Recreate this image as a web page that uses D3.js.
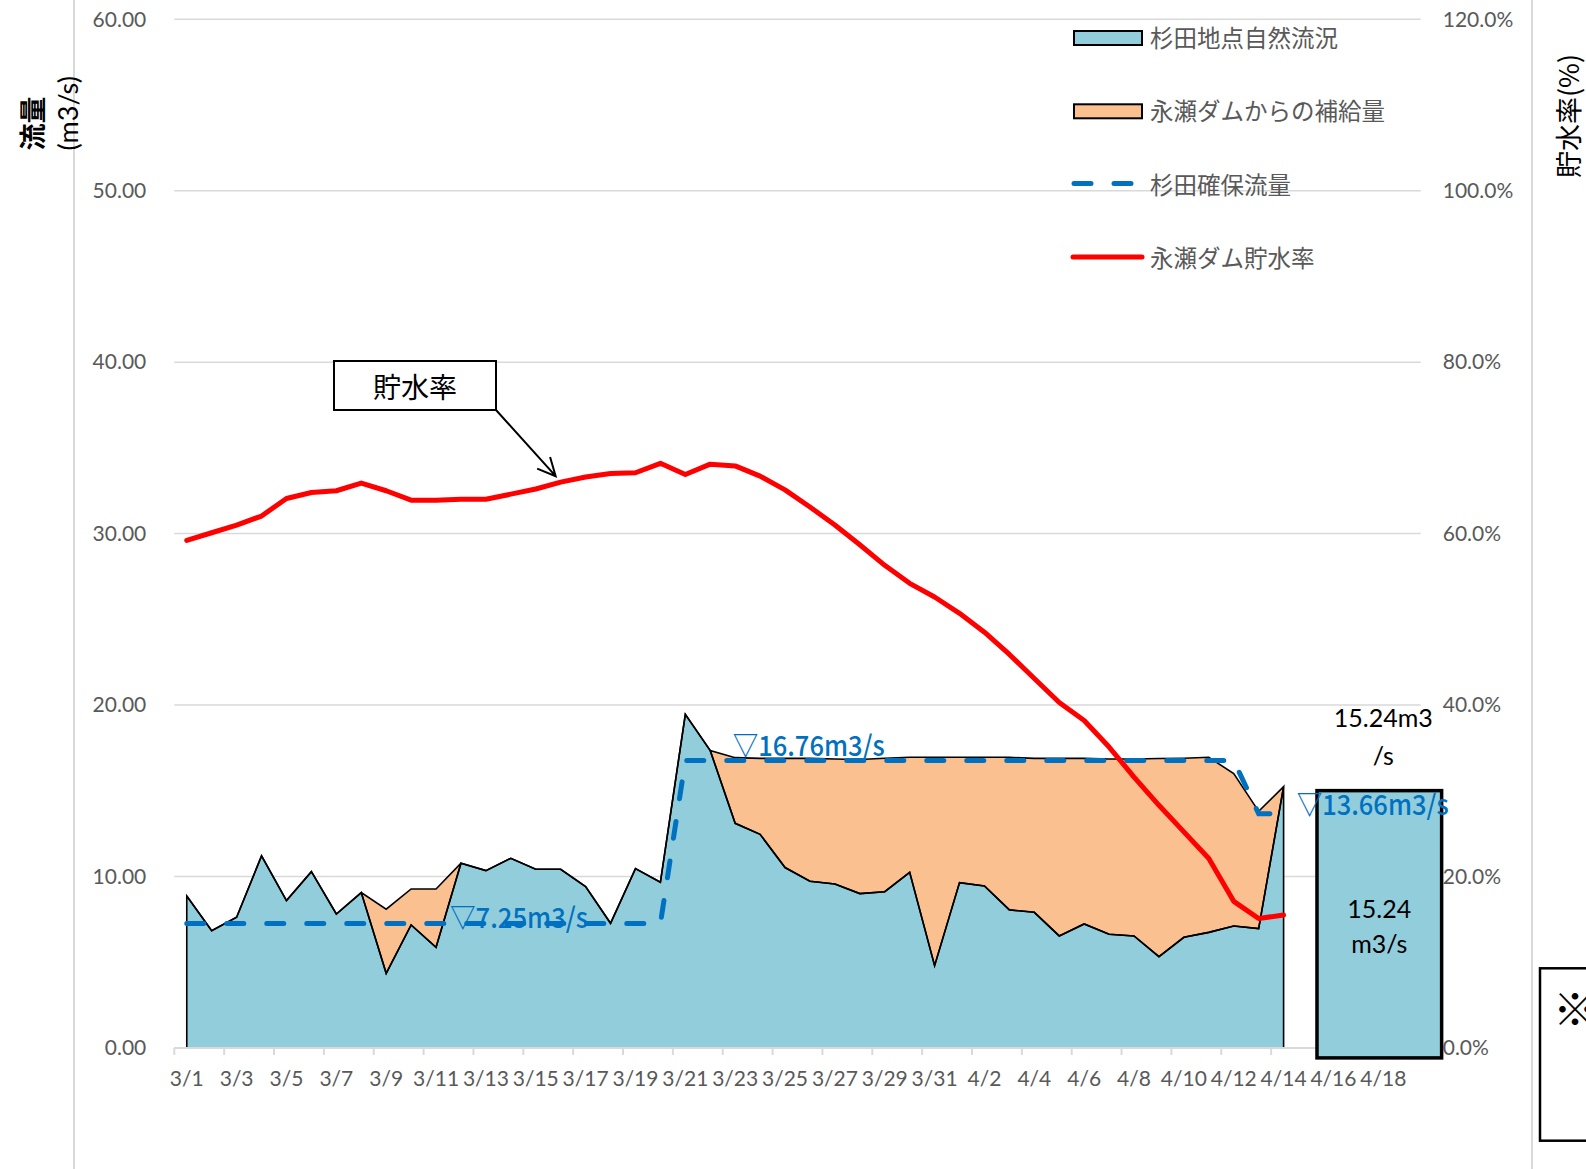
<!DOCTYPE html>
<html>
<head>
<meta charset="utf-8">
<script src="https://cdn.jsdelivr.net/npm/d3@7"></script>
<style>
  body { margin: 0; background: #fff; }
  svg { display: block; }
</style>
</head>
<body>
<svg id="chart"></svg>
<script>
var width = 1586;
var height = 1169;

// categories (3/1 .. 4/19)
const dates = ["3/1","3/2","3/3","3/4","3/5","3/6","3/7","3/8","3/9","3/10",
  "3/11","3/12","3/13","3/14","3/15","3/16","3/17","3/18","3/19","3/20",
  "3/21","3/22","3/23","3/24","3/25","3/26","3/27","3/28","3/29","3/30","3/31",
  "4/1","4/2","4/3","4/4","4/5","4/6","4/7","4/8","4/9","4/10",
  "4/11","4/12","4/13","4/14","4/15","4/16","4/17","4/18","4/19"];

// 杉田地点自然流況 (m3/s), 3/1 .. 4/14
const naturalFlow = [8.86,6.84,7.62,11.20,8.59,10.28,7.81,9.06,4.35,7.17,
  5.87,10.77,10.34,11.06,10.42,10.42,9.41,7.27,10.46,9.66,
  19.46,17.34,13.10,12.46,10.52,9.72,9.56,9.00,9.11,10.24,4.80,
  9.64,9.45,8.05,7.91,6.53,7.23,6.63,6.53,5.32,6.45,
  6.74,7.11,6.96,15.24];

// 永瀬ダムからの補給量 (m3/s)
const supply = [0,0,0,0,0,0,0,0,3.74,2.10,
  3.40,0,0,0,0,0,0,0,0,0,
  0,0,3.83,4.43,6.37,7.17,7.29,7.82,7.79,6.71,12.15,
  7.31,7.50,8.90,8.98,10.36,9.66,10.22,10.32,11.56,10.45,
  10.21,8.89,6.84,0];

// 杉田確保流量 (m3/s)
const secureFlow = [7.25,7.25,7.25,7.25,7.25,7.25,7.25,7.25,7.25,7.25,
  7.25,7.25,7.25,7.25,7.25,7.25,7.25,7.25,7.25,7.25,
  16.76,16.76,16.76,16.76,16.76,16.76,16.76,16.76,16.76,16.76,16.76,
  16.76,16.76,16.76,16.76,16.76,16.76,16.76,16.76,16.76,16.76,
  16.76,16.76,13.66,13.66];

// 永瀬ダム貯水率 (%)
const storageRate = [59.2,60.1,61.0,62.05,64.1,64.8,65.0,65.9,65.0,63.9,
  63.9,64.0,64.0,64.6,65.2,66.0,66.6,67.0,67.1,68.2,
  66.9,68.1,67.9,66.7,65.1,63.1,61.0,58.7,56.3,54.2,52.6,
  50.7,48.5,45.9,43.1,40.3,38.2,35.1,31.6,28.3,25.2,
  22.1,17.1,15.1,15.5];

const yTicks = [0, 10, 20, 30, 40, 50, 60];
const yRightTicks = [0, 20, 40, 60, 80, 100, 120];
const xTickLabels = dates.filter((d, i) => i % 2 === 0);

// label anchor (category + value); small pixel nudges kept separately
const securedLabels = [
  {text: "▽7.25m3/s", date: "3/12", value: 7.25, dx: 1.5, dy: 4.5, len: 138},
  {text: "▽16.76m3/s", date: "3/23", value: 16.76, dx: 10, dy: -4.5, len: 152},
  {text: "▽13.66m3/s", date: "4/15", value: 13.66, dx: 0.6, dy: 1.5, len: 152}
];
const forecastValue = 15.24;

const legendItems = [
  {name: "杉田地点自然流況", type: "area", color: "#92CDDC"},
  {name: "永瀬ダムからの補給量", type: "area", color: "#FAC090"},
  {name: "杉田確保流量", type: "dash", color: "#0070C0"},
  {name: "永瀬ダム貯水率", type: "line", color: "#FF0000"}
];

const latin = "Lato, 'Noto Sans', sans-serif";
const cjk = "'Noto Sans CJK JP', 'Noto Sans', sans-serif";
const grey = "#595959";

var svg = d3.select("#chart")
    .attr("width", width)
    .attr("height", height)
    .attr("viewBox", [0, 0, width, height]);

svg.append("rect").attr("width", width).attr("height", height).attr("fill", "#fff");

// outer frame lines
svg.append("g").selectAll("line")
    .data([74, 1532])
    .join("line")
    .attr("x1", d => d).attr("x2", d => d)
    .attr("y1", 0).attr("y2", height)
    .attr("stroke", "#D9D9D9").attr("stroke-width", 2);

let x = d3.scaleBand().domain(dates).range([174.3, 1420.7]);
let cx = d => x(d) + x.bandwidth() / 2;
let y = d3.scaleLinear().domain([0, 60]).range([1047.9, 19.3]);
let yR = d3.scaleLinear().domain([0, 120]).range([1047.9, 19.3]);

// gridlines
svg.append("g").selectAll("line")
    .data(yTicks)
    .join("line")
    .attr("x1", 174.3).attr("x2", 1420.7)
    .attr("y1", d => y(d)).attr("y2", d => y(d))
    .attr("stroke", "#D9D9D9").attr("stroke-width", 1.5);

// left axis labels
svg.append("g")
    .attr("transform", "translate(174.3,0)")
    .call(d3.axisLeft(y).tickValues(yTicks).tickSize(0).tickPadding(28).tickFormat(d3.format(".2f")))
    .call(g => g.select(".domain").remove())
    .selectAll("text")
    .attr("font-family", latin).attr("font-size", 21).attr("fill", grey);

// right axis labels
svg.append("g")
    .attr("transform", "translate(1420.7,0)")
    .call(d3.axisRight(yR).tickValues(yRightTicks).tickSize(0).tickPadding(22)
        .tickFormat(d => d3.format(".1f")(d) + "%"))
    .call(g => g.select(".domain").remove())
    .selectAll("text")
    .attr("font-family", latin).attr("font-size", 21).attr("fill", grey);

let rows = naturalFlow.map((v, i) => ({
    date: dates[i], nat: v, sup: supply[i], sec: secureFlow[i], rate: storageRate[i]
}));

// 自然流況 area
svg.append("path")
    .datum(rows)
    .attr("fill", "#92CDDC")
    .attr("d", d3.area().x(d => cx(d.date)).y0(y(0)).y1(d => y(d.nat)));

// 補給量 area stacked on top
svg.append("path")
    .datum(rows)
    .attr("fill", "#FAC090")
    .attr("stroke", "#000").attr("stroke-width", 1.6)
    .attr("d", d3.area().x(d => cx(d.date)).y0(d => y(d.nat)).y1(d => y(d.nat + d.sup)));

// outline of natural flow
let outline = [{date: rows[0].date, nat: 0}].concat(rows, [{date: rows[rows.length - 1].date, nat: 0}]);
svg.append("path")
    .datum(outline)
    .attr("fill", "none")
    .attr("stroke", "#000").attr("stroke-width", 1.6)
    .attr("d", d3.line().x(d => cx(d.date)).y(d => y(d.nat)));

// x axis line + ticks
svg.append("line")
    .attr("x1", 174.3).attr("x2", 1420.7)
    .attr("y1", y(0)).attr("y2", y(0))
    .attr("stroke", "#D9D9D9").attr("stroke-width", 2);
svg.append("g").selectAll("line")
    .data(xTickLabels)
    .join("line")
    .attr("x1", d => x(d)).attr("x2", d => x(d))
    .attr("y1", y(0)).attr("y2", y(0) + 7)
    .attr("stroke", "#D9D9D9").attr("stroke-width", 2);

svg.append("g")
    .attr("transform", `translate(0,${y(0)})`)
    .call(d3.axisBottom(x).tickValues(xTickLabels).tickSize(0))
    .call(g => g.select(".domain").remove())
    .selectAll("text")
    .attr("y", 31).attr("dy", "0.35em")
    .attr("font-family", latin).attr("font-size", 21).attr("fill", grey);

// 確保流量 dashed
svg.append("path")
    .datum(rows)
    .attr("fill", "none")
    .attr("stroke", "#0070C0").attr("stroke-width", 5)
    .attr("stroke-dasharray", "17,23").attr("stroke-linecap", "round")
    .attr("d", d3.line().x(d => cx(d.date)).y(d => y(d.sec)));

// 貯水率 line
svg.append("path")
    .datum(rows)
    .attr("fill", "none")
    .attr("stroke", "#FF0000").attr("stroke-width", 5)
    .attr("stroke-linejoin", "round").attr("stroke-linecap", "round")
    .attr("d", d3.line().x(d => cx(d.date)).y(d => yR(d.rate)));

// forecast box
let boxL = x("4/16") - 4, boxW = x.bandwidth() * 5;
svg.append("rect")
    .attr("x", boxL).attr("y", y(forecastValue) + 4)
    .attr("width", boxW).attr("height", y(0) + 10 - y(forecastValue) - 4)
    .attr("fill", "#92CDDC").attr("stroke", "#000").attr("stroke-width", 3.5);
svg.append("g").selectAll("text")
    .data([{t: forecastValue.toFixed(2), dy: 908}, {t: "m3/s", dy: 943}])
    .join("text")
    .attr("x", boxL + boxW / 2).attr("y", d => d.dy)
    .attr("text-anchor", "middle").attr("dominant-baseline", "central")
    .attr("font-family", latin).attr("font-size", 25).attr("fill", "#000")
    .text(d => d.t);
svg.append("g").selectAll("text")
    .data([{t: forecastValue.toFixed(2) + "m3", dy: 717}, {t: "/s", dy: 755}])
    .join("text")
    .attr("x", cx("4/18")).attr("y", d => d.dy)
    .attr("text-anchor", "middle").attr("dominant-baseline", "central")
    .attr("font-family", latin).attr("font-size", 25).attr("fill", "#000")
    .text(d => d.t);

// secured flow labels (drawn above the box)
svg.append("g").selectAll("text")
    .data(securedLabels)
    .join("text")
    .attr("x", d => x(d.date) + d.dx)
    .attr("y", d => y(d.value) + d.dy)
    .attr("font-family", cjk).attr("font-size", 28).attr("font-weight", 500)
    .attr("fill", "#0070C0")
    .attr("textLength", d => d.len)
    .attr("lengthAdjust", "spacingAndGlyphs")
    .text(d => d.text);

// 貯水率 callout
let callout = svg.append("g");
callout.append("rect")
    .attr("x", 334).attr("y", 361).attr("width", 162).attr("height", 49)
    .attr("fill", "#fff").attr("stroke", "#000").attr("stroke-width", 2);
callout.append("text")
    .attr("x", 415).attr("y", 386)
    .attr("text-anchor", "middle").attr("dominant-baseline", "central")
    .attr("font-family", cjk).attr("font-size", 28).attr("fill", "#000")
    .text("貯水率");
let tip = [cx("3/16") - 5, yR(storageRate[15]) - 6];
let from = [496, 410];
let ang = Math.atan2(tip[1] - from[1], tip[0] - from[0]);
callout.append("path")
    .attr("fill", "none").attr("stroke", "#000").attr("stroke-width", 2)
    .attr("d", `M${from}L${tip}` +
        `M${tip[0] - 20 * Math.cos(ang - 0.45)},${tip[1] - 20 * Math.sin(ang - 0.45)}L${tip}` +
        `L${tip[0] - 20 * Math.cos(ang + 0.45)},${tip[1] - 20 * Math.sin(ang + 0.45)}`);

// legend
let legend = svg.append("g").attr("transform", "translate(1072,37)");
let item = legend.selectAll("g")
    .data(legendItems)
    .join("g")
    .attr("transform", (d, i) => `translate(0,${i * 73.3})`);
item.filter(d => d.type === "area").append("rect")
    .attr("x", 2).attr("y", -6).attr("width", 68).attr("height", 14)
    .attr("fill", d => d.color).attr("stroke", "#000").attr("stroke-width", 2);
item.filter(d => d.type === "dash").append("line")
    .attr("x1", 2).attr("x2", 68).attr("y1", 0).attr("y2", 0)
    .attr("stroke", d => d.color).attr("stroke-width", 5)
    .attr("stroke-dasharray", "17,23").attr("stroke-linecap", "round");
item.filter(d => d.type === "line").append("line")
    .attr("x1", 1).attr("x2", 70).attr("y1", 0).attr("y2", 0)
    .attr("stroke", d => d.color).attr("stroke-width", 5).attr("stroke-linecap", "round");
item.append("text")
    .attr("x", 78).attr("y", 0).attr("dominant-baseline", "central")
    .attr("font-family", cjk).attr("font-size", 23.5).attr("fill", grey)
    .text(d => d.name);

// axis titles
svg.append("text")
    .attr("transform", "translate(31.7,123.5) rotate(-90)")
    .attr("text-anchor", "middle").attr("dominant-baseline", "central")
    .attr("font-family", cjk).attr("font-size", 27).attr("font-weight", "bold")
    .text("流量");
svg.append("text")
    .attr("transform", "translate(67.5,113.3) rotate(-90)")
    .attr("text-anchor", "middle").attr("dominant-baseline", "central")
    .attr("font-family", latin).attr("font-size", 27)
    .text("(m3/s)");
svg.append("text")
    .attr("transform", "translate(1567,116) rotate(-90)")
    .attr("text-anchor", "middle").attr("dominant-baseline", "central")
    .attr("font-family", cjk).attr("font-size", 27)
    .text("貯水率(%)");

// note box at right edge
svg.append("rect")
    .attr("x", 1540).attr("y", 968.3).attr("width", 80).attr("height", 172.4)
    .attr("fill", "#fff").attr("stroke", "#000").attr("stroke-width", 2.5);
svg.append("text")
    .attr("x", 1553).attr("y", 1006.5).attr("dominant-baseline", "central")
    .attr("font-family", cjk).attr("font-size", 44)
    .text("※");
</script>
</body>
</html>
